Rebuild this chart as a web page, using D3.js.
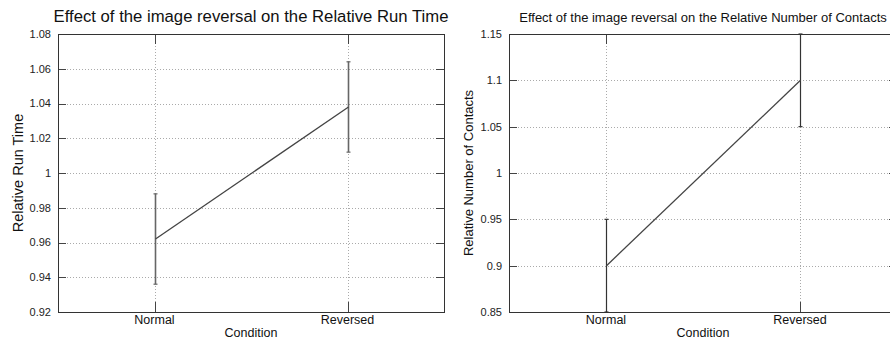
<!DOCTYPE html>
<html>
<head>
<meta charset="utf-8">
<script src="https://cdn.jsdelivr.net/npm/d3@7"></script>
<style>
  body { margin: 0; background: #fff; }
  svg { font-family: "Liberation Sans", Arial, sans-serif; }
</style>
</head>
<body>
<script>
//conditions on the x axis
var conditions = ["Normal", "Reversed"];

//relative run time: means and error half-widths
var runTimeMean = [0.962, 1.038],
    runTimeErr = [0.026, 0.026],
    runTimeTicks = [0.92, 0.94, 0.96, 0.98, 1, 1.02, 1.04, 1.06, 1.08];

//relative number of contacts
var contactsMean = [0.9, 1.1],
    contactsErr = [0.05, 0.05],
    contactsTicks = [0.85, 0.9, 0.95, 1, 1.05, 1.1, 1.15];

var width = 890,
    height = 340;

var svg = d3.select("body")
    .append("svg")
    .attr("width", width)
    .attr("height", height);

drawPanel({
    left: 58, right: 444, top: 34, bottom: 312,
    title: "Effect of the image reversal on the Relative Run Time",
    titleSize: 16.7,
    ylabel: "Relative Run Time",
    ylabelX: 18, ylabelSize: 14.5,
    means: runTimeMean, errs: runTimeErr, ticks: runTimeTicks,
    barColor: "#666", barWidth: 1.6
});

drawPanel({
    left: 509, right: 897, top: 34, bottom: 312,
    title: "Effect of the image reversal on the Relative Number of Contacts",
    titleSize: 13,
    ylabel: "Relative Number of Contacts",
    ylabelX: 468, ylabelSize: 13,
    means: contactsMean, errs: contactsErr, ticks: contactsTicks,
    barColor: "#333", barWidth: 1.2
});

function drawPanel(p) {
    var g = svg.append("g");

    var x = d3.scaleLinear().domain([0.5, conditions.length + 0.5]).range([p.left, p.right]);
    var y = d3.scaleLinear()
        .domain([p.ticks[0], p.ticks[p.ticks.length - 1]])
        .range([p.bottom, p.top]);
    //pixel-snapped x position of a category
    var cx = function (i) { return Math.round(x(i + 1)) + 0.5; };

    //dotted grid
    g.selectAll(".hgrid").data(p.ticks.slice(1, -1)).enter().append("line")
        .attr("x1", p.left).attr("x2", p.right)
        .attr("y1", function (d) { return Math.round(y(d)) + 0.5; })
        .attr("y2", function (d) { return Math.round(y(d)) + 0.5; })
        .attr("stroke", "#aaa").attr("stroke-dasharray", "1,2");
    g.selectAll(".vgrid").data(conditions).enter().append("line")
        .attr("x1", function (d, i) { return cx(i); })
        .attr("x2", function (d, i) { return cx(i); })
        .attr("y1", p.top).attr("y2", p.bottom)
        .attr("stroke", "#aaa").attr("stroke-dasharray", "1,2");

    //inward tick marks on all four sides
    var tickColor = "#444";
    p.ticks.forEach(function (t) {
        var yy = Math.round(y(t)) + 0.5;
        g.append("line").attr("x1", p.left).attr("x2", p.left + 8)
            .attr("y1", yy).attr("y2", yy).attr("stroke", tickColor);
        g.append("line").attr("x1", p.right - 8).attr("x2", p.right)
            .attr("y1", yy).attr("y2", yy).attr("stroke", tickColor);
    });
    conditions.forEach(function (c, i) {
        g.append("line").attr("x1", cx(i)).attr("x2", cx(i))
            .attr("y1", p.top).attr("y2", p.top + 10).attr("stroke", tickColor);
        g.append("line").attr("x1", cx(i)).attr("x2", cx(i))
            .attr("y1", p.bottom - 10).attr("y2", p.bottom).attr("stroke", tickColor);
    });

    //frame
    g.append("rect")
        .attr("x", p.left + 0.5).attr("y", p.top + 0.5)
        .attr("width", p.right - p.left).attr("height", p.bottom - p.top)
        .attr("fill", "none").attr("stroke", "#333").attr("stroke-width", 1);

    //y tick labels
    g.selectAll(".ylab").data(p.ticks).enter().append("text")
        .attr("x", p.left - 7)
        .attr("y", function (d) { return y(d); })
        .attr("dy", "0.35em")
        .attr("text-anchor", "end")
        .attr("font-size", 11)
        .attr("fill", "#222")
        .text(function (d) { return d3.format("~g")(d); });

    //x tick labels
    g.selectAll(".xlab").data(conditions).enter().append("text")
        .attr("x", function (d, i) { return x(i + 1); })
        .attr("y", p.bottom + 12)
        .attr("text-anchor", "middle")
        .attr("font-size", 12.5)
        .attr("fill", "#111")
        .text(function (d) { return d; });

    //axis labels and title
    g.append("text")
        .attr("x", (p.left + p.right) / 2)
        .attr("y", p.bottom + 25)
        .attr("text-anchor", "middle")
        .attr("font-size", 12.5)
        .attr("fill", "#111")
        .text("Condition");

    g.append("text")
        .attr("transform", "translate(" + p.ylabelX + "," + ((p.top + p.bottom) / 2) + ") rotate(-90)")
        .attr("text-anchor", "middle")
        .attr("dy", "0.35em")
        .attr("font-size", p.ylabelSize)
        .attr("fill", "#111")
        .text(p.ylabel);

    g.append("text")
        .attr("x", (p.left + p.right) / 2)
        .attr("y", 22)
        .attr("text-anchor", "middle")
        .attr("font-size", p.titleSize)
        .attr("fill", "#111")
        .text(p.title);

    //error bars
    var bars = g.selectAll(".err").data(p.means).enter().append("g");
    bars.append("line")
        .attr("x1", function (d, i) { return cx(i); })
        .attr("x2", function (d, i) { return cx(i); })
        .attr("y1", function (d, i) { return y(d - p.errs[i]); })
        .attr("y2", function (d, i) { return y(d + p.errs[i]); })
        .attr("stroke", p.barColor).attr("stroke-width", p.barWidth);
    [-1, 1].forEach(function (s) {
        bars.append("line")
            .attr("x1", function (d, i) { return cx(i) - 2; })
            .attr("x2", function (d, i) { return cx(i) + 2; })
            .attr("y1", function (d, i) { return y(d + s * p.errs[i]); })
            .attr("y2", function (d, i) { return y(d + s * p.errs[i]); })
            .attr("stroke", p.barColor).attr("stroke-width", 1.2);
    });

    //mean line
    var line = d3.line()
        .x(function (d, i) { return cx(i); })
        .y(function (d) { return y(d); });
    g.append("path")
        .datum(p.means)
        .attr("d", line)
        .attr("fill", "none")
        .attr("stroke", "#444")
        .attr("stroke-width", 1.3);
}
</script>
</body>
</html>
